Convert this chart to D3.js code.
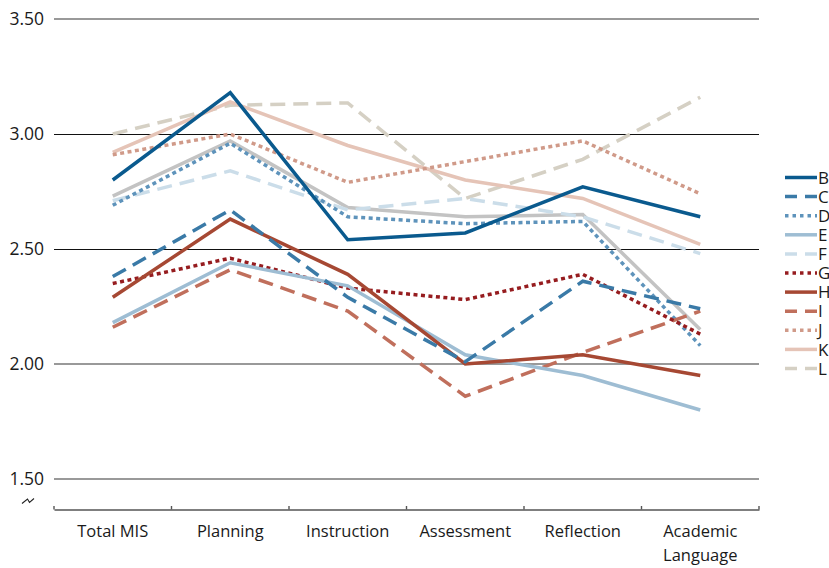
<!DOCTYPE html>
<html>
<head>
<meta charset="utf-8">
<script src="https://cdn.jsdelivr.net/npm/d3@7"></script>
<style>
  html, body { margin: 0; padding: 0; background: #fff; }
  svg { display: block; font-family: "Open Sans", "Noto Sans", sans-serif; }
</style>
</head>
<body>
<svg id="chart" width="829" height="568"></svg>
<script>
// ---- data ----
const categories = ["Total MIS", "Planning", "Instruction", "Assessment", "Reflection", "Academic Language"];
const yTicks = [1.5, 2.0, 2.5, 3.0, 3.5];
const seriesNames = ["A", "B", "C", "D", "E", "F", "G", "H", "I", "J", "K", "L"];
const legendNames = ["B", "C", "D", "E", "F", "G", "H", "I", "J", "K", "L"];
const valuesA = [2.73, 2.97, 2.68, 2.64, 2.65, 2.15];
const valuesB = [2.80, 3.18, 2.54, 2.57, 2.77, 2.64];
const valuesC = [2.38, 2.67, 2.29, 2.01, 2.36, 2.24];
const valuesD = [2.69, 2.96, 2.64, 2.61, 2.62, 2.08];
const valuesE = [2.18, 2.44, 2.34, 2.04, 1.95, 1.80];
const valuesF = [2.71, 2.84, 2.67, 2.72, 2.64, 2.48];
const valuesG = [2.35, 2.46, 2.33, 2.28, 2.39, 2.13];
const valuesH = [2.29, 2.63, 2.39, 2.00, 2.04, 1.95];
const valuesI = [2.16, 2.41, 2.23, 1.86, 2.05, 2.23];
const valuesJ = [2.91, 3.00, 2.79, 2.88, 2.97, 2.74];
const valuesK = [2.92, 3.14, 2.95, 2.80, 2.72, 2.52];
const valuesL = [3.00, 3.125, 3.135, 2.72, 2.89, 3.16];

// ---- styles ----
const styles = {
  A: { color: "#c3c3c3", dash: null },
  B: { color: "#0a5a8e", dash: null },
  C: { color: "#3a7aa7", dash: "15,8" },
  D: { color: "#5e93bb", dash: "4,3.5" },
  E: { color: "#9ebdd3", dash: null },
  F: { color: "#cbdde9", dash: "15,8" },
  G: { color: "#961c1f", dash: "4,3.5" },
  H: { color: "#a64833", dash: null },
  I: { color: "#c06f5c", dash: "15,8" },
  J: { color: "#d09a89", dash: "4,3.5" },
  K: { color: "#e5c4b7", dash: null },
  L: { color: "#d5d0c4", dash: "15,8" }
};
const valuesBySeries = { A: valuesA, B: valuesB, C: valuesC, D: valuesD, E: valuesE, F: valuesF,
  G: valuesG, H: valuesH, I: valuesI, J: valuesJ, K: valuesK, L: valuesL };

const svg = d3.select("#chart");
const plotLeft = 54, plotRight = 759, plotTop = 19, plotBottom = 479, axisY = 509.5;

const x = d3.scaleBand().domain(categories).range([plotLeft, plotRight]);
const y = d3.scaleLinear().domain([1.5, 3.5]).range([plotBottom, plotTop]);

const crisp = d => (d === 3.0 || d === 2.5);

// gridlines
svg.append("g").selectAll("line").data(yTicks).join("line")
  .attr("x1", plotLeft).attr("x2", plotRight)
  .attr("y1", d => y(d) + (crisp(d) ? 0.5 : 0))
  .attr("y2", d => y(d) + (crisp(d) ? 0.5 : 0))
  .attr("stroke", d => crisp(d) ? "#111" : "#777")
  .attr("stroke-width", d => crisp(d) ? 1 : 1.6);

// y tick labels
svg.append("g").selectAll("text").data(yTicks).join("text")
  .attr("x", 44).attr("y", d => y(d)).attr("dy", "0.36em")
  .attr("text-anchor", "end").attr("font-size", 17.5).attr("fill", "#1a1a1a")
  .text(d => d3.format(".2f")(d));

// axis break symbol
svg.append("path")
  .attr("d", "M22,503.5 L27.5,499 L29.5,502.5 L34,498.5")
  .attr("fill", "none").attr("stroke", "#222").attr("stroke-width", 1.1);

// x axis
const xAxis = d3.axisBottom(x).tickSize(0).tickFormat("");
const gx = svg.append("g").attr("transform", `translate(0,${axisY})`).call(xAxis);
gx.select(".domain").attr("stroke", "#555").attr("stroke-width", 1.4);
const bounds = categories.map(c => x(c)).concat([plotRight]);
svg.append("g").selectAll("line").data(bounds).join("line")
  .attr("x1", d => d).attr("x2", d => d)
  .attr("y1", axisY - 3.5).attr("y2", axisY)
  .attr("stroke", "#555").attr("stroke-width", 1.4);

// x labels
const xl = svg.append("g").selectAll("text").data(categories).join("text")
  .attr("x", d => x(d) + x.bandwidth() / 2)
  .attr("y", 537)
  .attr("text-anchor", "middle").attr("font-size", 16.5).attr("fill", "#1a1a1a");
xl.each(function(d) {
  const words = d === "Academic Language" ? ["Academic", "Language"] : [d];
  const t = d3.select(this);
  words.forEach((w, i) => {
    t.append("tspan").attr("x", x(d) + x.bandwidth() / 2).attr("dy", i === 0 ? 0 : 24).text(w);
  });
});

// lines
const line = d3.line()
  .x((d, i) => x(categories[i]) + x.bandwidth() / 2)
  .y(d => y(d));
const drawOrder = ["A", "L", "K", "J", "F", "D", "I", "G", "E", "H", "C", "B"];
svg.append("g").selectAll("path").data(drawOrder).join("path")
  .attr("d", s => line(valuesBySeries[s]))
  .attr("fill", "none")
  .attr("stroke", s => styles[s].color)
  .attr("stroke-width", 3.5)
  .attr("stroke-dasharray", s => styles[s].dash)
  .attr("stroke-linejoin", "miter");

// legend
const lg = svg.append("g").selectAll("g").data(legendNames).join("g")
  .attr("transform", (d, i) => `translate(785,${177.5 + i * 19.1})`);
lg.append("line").attr("x1", 0).attr("x2", 32).attr("y1", 0).attr("y2", 0)
  .attr("stroke", d => styles[d].color).attr("stroke-width", 3.5)
  .attr("stroke-dasharray", d => styles[d].dash === null ? null : (styles[d].dash === "4,3.5" ? "3.5,4" : "12,8"));
lg.append("text").attr("x", 33).attr("y", 0).attr("dy", "0.36em")
  .attr("font-size", 17).attr("fill", "#1a1a1a").text(d => d);
</script>
</body>
</html>
